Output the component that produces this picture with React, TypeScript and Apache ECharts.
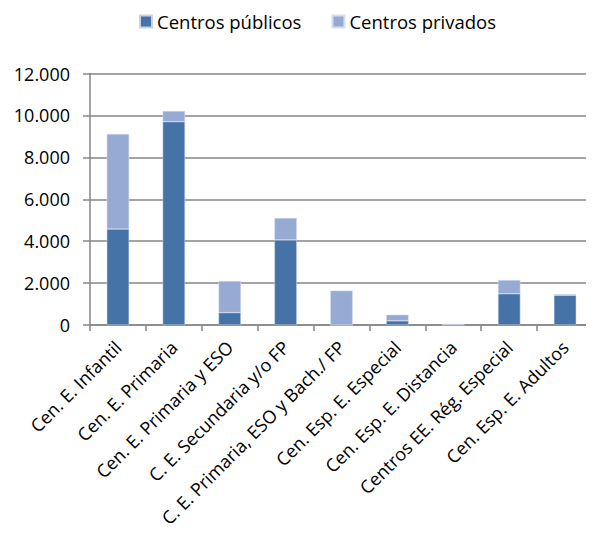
import React, { useEffect, useRef } from "react";
import * as echarts from "echarts";

const categories = [
  "Cen. E. Infantil",
  "Cen. E. Primaria",
  "Cen. E. Primaria y ESO",
  "C. E. Secundaria y/o FP",
  "C. E. Primaria, ESO y Bach./ FP",
  "Cen. Esp. E. Especial",
  "Cen. Esp. E. Distancia",
  "Centros EE. Rég. Especial",
  "Cen. Esp. E. Adultos",
];
const publicos = [4580, 9700, 590, 4060, 0, 200, 10, 1490, 1420];
const privados = [4530, 510, 1510, 1045, 1640, 290, 40, 655, 45];
const seriesNames = ["Centros públicos", "Centros privados"];

const FONT = "Open Sans";

export default function App() {
  const ref = useRef<HTMLDivElement>(null);
  useEffect(() => {
    if (!ref.current) return;
    const chart = echarts.init(ref.current, undefined, { renderer: "svg" });
    chart.setOption({
      animation: false,
      textStyle: { fontFamily: FONT },
      legend: {
        top: -1,
        left: 126,
        itemWidth: 12,
        itemHeight: 12,
        itemGap: 30,
        icon: "rect",
        textStyle: { fontSize: 18.5, color: "#000", fontFamily: FONT },
        data: seriesNames,
      },
      grid: {
        left: 82,
        right: 1,
        top: 65.5,
        bottom: 208,
        containLabel: false,
        outerBoundsMode: "none",
      },
      xAxis: {
        type: "category",
        data: categories,
        axisLine: { lineStyle: { color: "#868686", width: 1.5 } },
        axisTick: { show: true, length: 6, alignWithLabel: false, lineStyle: { color: "#868686", width: 1.5 } },
        axisLabel: {
          rotate: 45,
          interval: 0,
          fontSize: 18,
          color: "#000",
          fontFamily: FONT,
          margin: 19,
        },
      },
      yAxis: {
        type: "value",
        min: 0,
        max: 12000,
        interval: 2000,
        axisLine: { show: true, lineStyle: { color: "#868686", width: 1.5 } },
        axisTick: { show: true, length: 7, lineStyle: { color: "#868686", width: 1.5 } },
        splitLine: { lineStyle: { color: "#868686", width: 1.5 } },
        axisLabel: {
          fontSize: 18,
          color: "#000",
          fontFamily: FONT,
          margin: 20,
          formatter: (v: number) => v.toLocaleString("de-DE"),
        },
      },
      series: [
        {
          name: seriesNames[0],
          type: "bar",
          stack: "total",
          barWidth: "40%",
          data: publicos,
          itemStyle: { color: "#4673A7", borderColor: "#C8D2E6", borderWidth: 0.5 },
        },
        {
          name: seriesNames[1],
          type: "bar",
          stack: "total",
          barWidth: "40%",
          data: privados,
          itemStyle: { color: "#97AAD3", borderColor: "#D5DDEE", borderWidth: 0.5 },
        },
      ],
    });
    return () => chart.dispose();
  }, []);
  return <div ref={ref} style={{ width: 586, height: 525 }} />;
}
